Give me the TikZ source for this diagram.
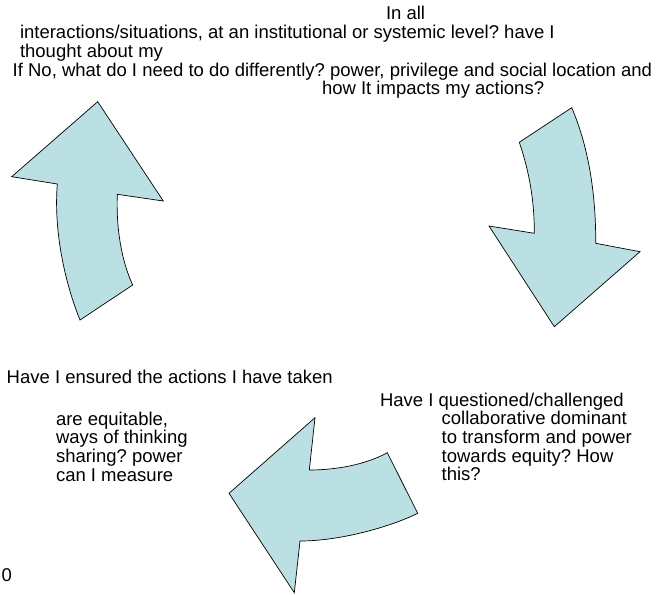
\documentclass[tikz,border=0pt]{standalone}
\usepackage{fontspec}
\setmainfont{Liberation Sans}
\frenchspacing
\definecolor{arrowfill}{HTML}{BBE0E3}
\begin{document}
\begin{tikzpicture}[x=1pt,y=-1pt,
  txt/.style={inner sep=0pt,outer sep=0pt,anchor=base west,font=\fontsize{18.5}{18.7}\selectfont},
  bigarrow/.style={fill=arrowfill,draw=black,line width=0.7pt,line join=miter}]
\useasboundingbox (0,0) rectangle (658,594);
% left arrow (up)
\draw[bigarrow] (97.7,101.7) -- (163.3,201) -- (117.3,194.3)
  .. controls (116,230) and (122,262) .. (132.7,285) -- (80,320)
  .. controls (62,275) and (54,225) .. (57.3,184) -- (11.7,176.7) -- cycle;
% right arrow (down)
\draw[bigarrow] (571.7,107.7) -- (519.3,142.3)
  .. controls (527,165) and (534.5,195) .. (534.3,233.3) -- (489,226) -- (554.3,326.7) -- (640,251.7) -- (595.7,243.3)
  .. controls (596,200) and (590,150) .. (571.7,107.7) -- cycle;
% bottom arrow (left)
\draw[bigarrow] (315,417.7) -- (309.3,470)
  .. controls (335,470) and (365,465) .. (387.3,452.7) -- (417.7,513.3)
  .. controls (390,527) and (340,541) .. (300,541) -- (294.3,592.7) -- (229,493.3) -- cycle;
% top text
\node[txt] (t1) at (386,20) {In all};
\node[txt] (t2) at (20,38.7) {interactions/situations, at an institutional or systemic level? have I};
\node[txt] (t3) at (20,57.4) {thought about my};
\node[txt] (t4) at (12.7,76.1) {If No, what do I need to do differently? power, privilege and social location and};
\node[txt] (t5) at (322,94.8) {how It impacts my actions?};
% bottom left text
\node[txt] (b1) at (6.7,383.3) {Have I ensured the actions I have taken};
\node[txt] (b2) at (56,425) {are equitable,};
\node[txt] (b3) at (56,443.8) {ways of thinking};
\node[txt] (b4) at (56,462.6) {sharing? power};
\node[txt] (b5) at (56,481.4) {can I measure};
\node[txt] (z0) at (1.7,581.7) {0};
% right text
\node[txt] (r1) at (380,406) {Have I questioned/challenged};
\node[txt] (r2) at (441.7,424.8) {collaborative dominant};
\node[txt] (r3) at (441.7,443.5) {to transform and power};
\node[txt] (r4) at (441.7,462.2) {towards equity? How};
\node[txt] (r5) at (441.7,480.9) {this?};
\end{tikzpicture}
\end{document}
